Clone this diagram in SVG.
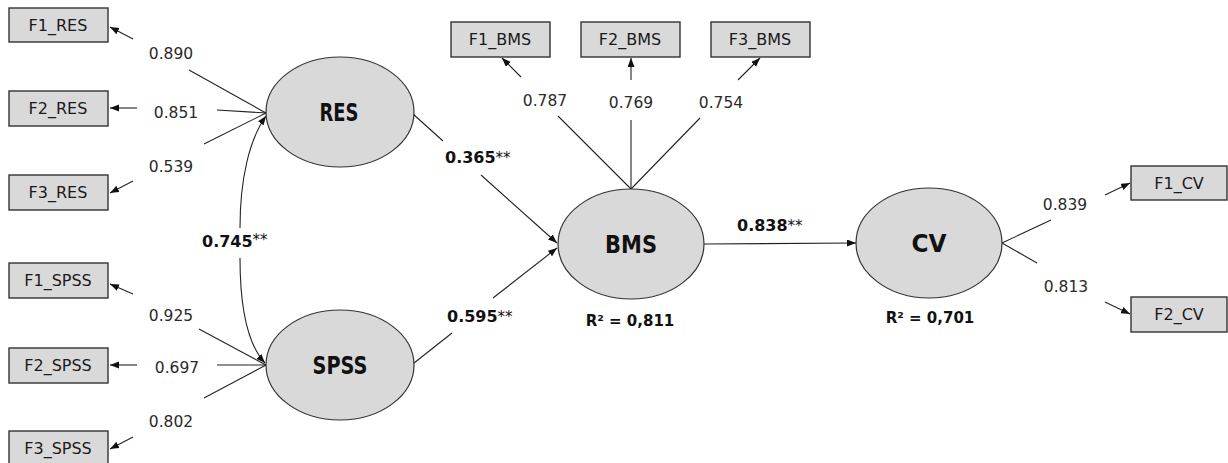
<svg xmlns="http://www.w3.org/2000/svg" width="1228" height="463" viewBox="0 0 1228 463">
<style>
.box{fill:#d9d9d9;stroke:#333;stroke-width:1.4}
.lat{fill:#d9d9d9;stroke:#333;stroke-width:1.2}
.ln{fill:none;stroke:#222;stroke-width:1.1}
.ar{marker-end:url(#ah)}
.bl{font-family:"DejaVu Sans",sans-serif;font-size:16px;fill:#1a1a1a;text-anchor:middle}
.ld{font-family:"DejaVu Sans",sans-serif;font-size:15.5px;fill:#2a2a2a;text-anchor:middle}
.lt{font-family:"DejaVu Sans",sans-serif;font-size:24px;font-weight:bold;fill:#111;text-anchor:middle}
.pc{font-family:"DejaVu Sans",sans-serif;font-size:16px;font-weight:bold;fill:#111}
.st{font-size:15px;font-weight:normal}
.r2{font-family:"DejaVu Sans",sans-serif;font-size:15px;font-weight:bold;fill:#111;text-anchor:middle}
</style>
<defs>
<marker id="ah" markerUnits="userSpaceOnUse" markerWidth="10" markerHeight="8" refX="9" refY="3.5" orient="auto-start-reverse" viewBox="0 0 10 8">
<path d="M0,0 L9,3.5 L0,7 z" fill="#111"/>
</marker>
</defs>
<rect width="1228" height="463" fill="#fff"/>

<g id="connectors">
<path class="ln" d="M266,113 L189,70"/><path class="ln ar" d="M133,39 L110,27"/>
<path class="ln" d="M266,113 L217,110"/><path class="ln ar" d="M137,108 L110,108"/>
<path class="ln" d="M266,113 L204,144"/><path class="ln ar" d="M133,181 L110,193"/>
<path class="ln" d="M266,365 L199,329"/><path class="ln ar" d="M133,294 L110,284"/>
<path class="ln" d="M266,365 L217,365"/><path class="ln ar" d="M137,365 L110,365"/>
<path class="ln" d="M266,365 L204,398"/><path class="ln ar" d="M133,437 L110,449"/>
<path class="ln" d="M240,228 C240,180 249,140 266,116" marker-end="url(#ah)"/>
<path class="ln ar" d="M240,258 C240,310 248,345 265,363"/>
<path class="ln" d="M631,189 L558,116"/><path class="ln ar" d="M521,77 L502,58"/>
<path class="ln" d="M631,189 L631,120"/><path class="ln ar" d="M631,80 L631,58"/>
<path class="ln" d="M631,189 L700,118"/><path class="ln ar" d="M738,80 L760,58"/>
<path class="ln" d="M413,114 L443,141"/><path class="ln ar" d="M481,175 L557,243"/>
<path class="ln" d="M414,363 L452,333"/><path class="ln ar" d="M493,298 L557,248"/>
<path class="ln ar" d="M704,244 L856,243"/>
<path class="ln" d="M1002,243 L1051,220"/><path class="ln ar" d="M1105,195 L1130,183"/>
<path class="ln" d="M1002,243 L1037,263"/><path class="ln ar" d="M1105,302 L1130,314"/>
</g>

<g id="F1_RES"><rect class="box" x="9" y="8" width="99" height="34"/><text class="bl" x="58" y="31">F1_RES</text></g>
<g id="F2_RES"><rect class="box" x="9" y="91" width="99" height="35"/><text class="bl" x="58" y="114">F2_RES</text></g>
<g id="F3_RES"><rect class="box" x="9" y="175" width="99" height="35"/><text class="bl" x="58" y="198">F3_RES</text></g>
<g id="F1_SPSS"><rect class="box" x="9" y="263" width="99" height="35"/><text class="bl" x="58" y="286">F1_SPSS</text></g>
<g id="F2_SPSS"><rect class="box" x="9" y="348" width="99" height="35"/><text class="bl" x="58" y="371">F2_SPSS</text></g>
<g id="F3_SPSS"><rect class="box" x="9" y="431" width="99" height="36"/><text class="bl" x="58" y="454">F3_SPSS</text></g>
<g id="F1_BMS"><rect class="box" x="451" y="22" width="99" height="35"/><text class="bl" x="500" y="45">F1_BMS</text></g>
<g id="F2_BMS"><rect class="box" x="581" y="22" width="99" height="35"/><text class="bl" x="630" y="45">F2_BMS</text></g>
<g id="F3_BMS"><rect class="box" x="711" y="22" width="99" height="35"/><text class="bl" x="760" y="45">F3_BMS</text></g>
<g id="F1_CV"><rect class="box" x="1131" y="166" width="96" height="34"/><text class="bl" x="1179" y="189">F1_CV</text></g>
<g id="F2_CV"><rect class="box" x="1131" y="297" width="96" height="35"/><text class="bl" x="1179" y="320">F2_CV</text></g>

<g id="RES"><ellipse class="lat" cx="340" cy="112" rx="74" ry="55"/><text class="lt" x="339" y="121" textLength="39" lengthAdjust="spacingAndGlyphs">RES</text></g>
<g id="SPSS"><ellipse class="lat" cx="340" cy="365" rx="74" ry="55"/><text class="lt" x="340" y="374" textLength="55" lengthAdjust="spacingAndGlyphs">SPSS</text></g>
<g id="BMS"><ellipse class="lat" cx="631" cy="244" rx="73" ry="55"/><text class="lt" x="631" y="253" textLength="52" lengthAdjust="spacingAndGlyphs">BMS</text></g>
<g id="CV"><ellipse class="lat" cx="929" cy="243" rx="73" ry="55"/><text class="lt" x="929" y="252" textLength="35" lengthAdjust="spacingAndGlyphs">CV</text></g>

<g id="labels">
<text class="ld" x="171" y="59">0.890</text>
<text class="ld" x="176" y="118">0.851</text>
<text class="ld" x="171" y="172">0.539</text>
<text class="ld" x="171" y="321">0.925</text>
<text class="ld" x="177" y="373">0.697</text>
<text class="ld" x="171" y="427">0.802</text>
<text class="ld" x="545" y="106">0.787</text>
<text class="ld" x="631" y="108">0.769</text>
<text class="ld" x="721" y="108">0.754</text>
<text class="ld" x="1065" y="210">0.839</text>
<text class="ld" x="1066" y="292">0.813</text>
<text class="pc" x="445" y="163">0.365<tspan class="st">**</tspan></text>
<text class="pc" x="447" y="322">0.595<tspan class="st">**</tspan></text>
<text class="pc" x="737" y="231">0.838<tspan class="st">**</tspan></text>
<text class="pc" x="202" y="247">0.745<tspan class="st" font-size="12px" dy="-2">**</tspan></text>
<text class="r2" x="630" y="326">R² = 0,811</text>
<text class="r2" x="930" y="323">R² = 0,701</text>
</g>
</svg>
